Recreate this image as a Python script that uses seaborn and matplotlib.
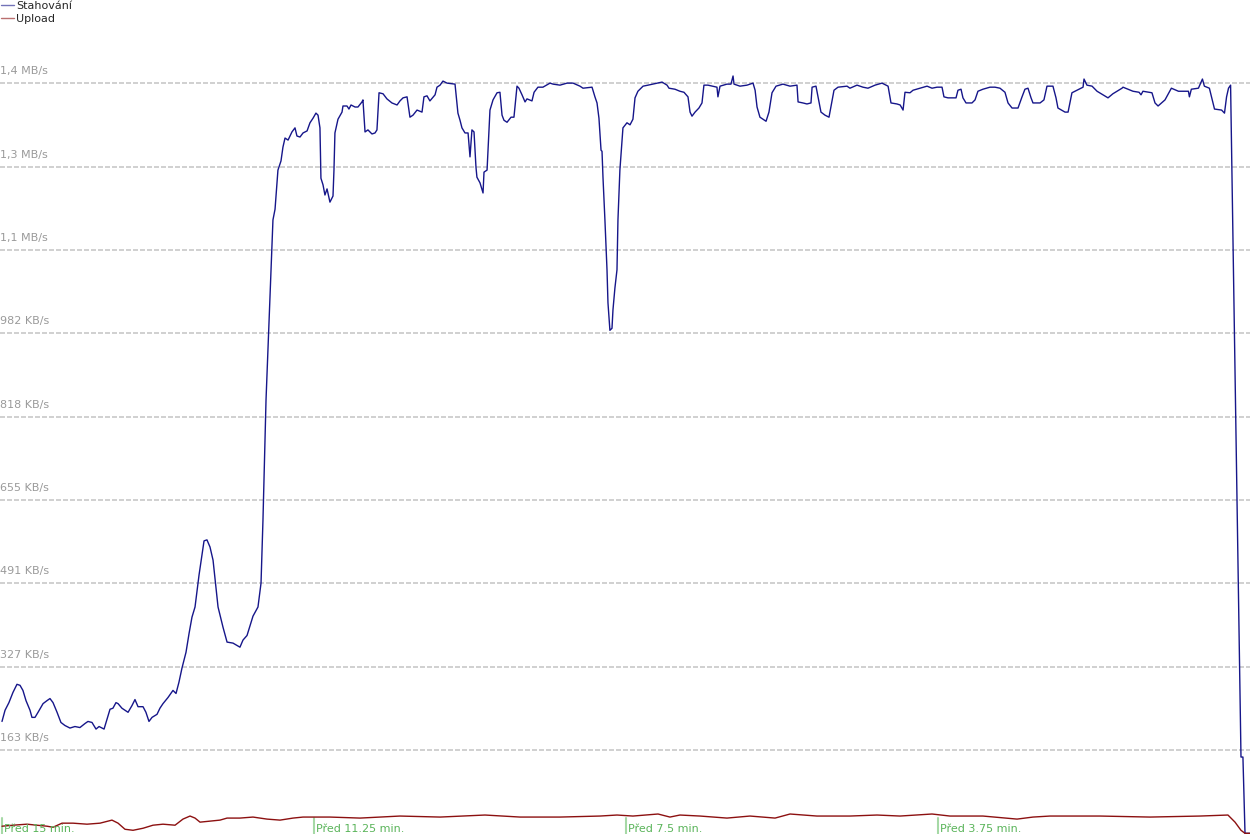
import pandas as pd
import seaborn as sns
import matplotlib.pyplot as plt

# -------------------- data -------------------- #
# time in seconds since the start of the 15 minute window, speed in KB/s

download_t = [
    0.0, 2.2, 5.0, 7.9, 10.8, 13.0, 15.1, 17.3, 20.2, 21.6, 23.8, 26.0, 29.6, 32.5,
    34.6, 36.8, 39.7, 42.5, 45.4, 49.0, 52.6, 56.2, 59.9, 62.0, 64.9, 67.8, 70.0,
    73.6, 77.9, 80.0, 82.2, 83.7, 86.5, 90.9, 93.7, 95.9, 98.1, 101.7, 103.8, 106.0,
    108.2, 111.8, 113.9, 116.1, 119.7, 123.3, 125.5, 127.6, 129.8, 132.7, 134.9,
    137.0, 139.2, 142.1, 145.7, 147.8, 150.0, 152.2, 155.8, 159.4, 162.3, 166.6,
    171.6, 173.8, 176.7, 181.0, 184.6, 186.8, 188.2, 190.4, 193.2, 195.4, 196.9,
    199.0, 201.2, 202.6, 204.1, 206.3, 209.1, 211.3, 212.7, 214.9, 217.1, 220.0,
    222.1, 224.3, 226.4, 227.9, 229.3, 230.0, 231.5, 232.9, 234.4, 236.5, 238.7,
    239.4, 240.1, 242.3, 245.2, 245.9, 248.8, 250.2, 251.7, 254.6, 256.7, 259.6,
    260.3, 261.8, 263.9, 266.8, 269.0, 270.4, 271.9, 274.8, 277.6, 281.2, 284.9,
    287.0, 289.2, 292.1, 294.2, 296.4, 299.3, 302.9, 304.3, 306.5, 308.6, 312.3,
    313.7, 315.9, 318.0, 320.9, 326.7, 328.8, 330.3, 331.7, 333.9, 336.1, 337.5,
    338.9, 340.4, 341.8, 342.5, 344.7, 346.9, 347.6, 349.8, 351.9, 354.1, 357.0,
    359.1, 360.6, 362.0, 364.2, 367.1, 369.2, 371.4, 372.8, 375.0, 377.2, 378.6,
    382.2, 383.7, 386.5, 390.1, 395.2, 397.4, 402.4, 407.5, 411.8, 416.8, 419.0,
    425.5, 427.6, 429.1, 430.5, 432.0, 432.7, 433.4, 434.8, 436.3, 437.0, 438.4,
    439.9, 440.6, 442.0, 443.5, 444.2, 445.6, 447.8, 450.7, 452.9, 455.0, 456.5,
    458.6, 462.3, 465.9, 472.4, 476.0, 479.6, 481.0, 485.3, 488.9, 491.8, 494.7,
    496.2, 497.6, 499.8, 502.6, 504.8, 506.2, 509.1, 515.6, 516.3, 517.8, 522.8,
    525.7, 527.2, 527.9, 532.2, 537.3, 541.6, 543.1, 544.5, 546.6, 551.0, 553.1,
    555.3, 558.2, 563.2, 568.3, 573.3, 574.1, 577.6, 580.5, 583.4, 584.2, 587.0,
    588.5, 590.6, 593.5, 596.4, 600.0, 602.9, 609.4, 611.5, 616.6, 620.9, 624.5,
    629.6, 634.6, 639.0, 641.1, 645.4, 647.7, 649.8, 651.2, 654.8, 657.0, 662.0,
    667.1, 670.7, 674.3, 677.9, 679.3, 682.2, 688.0, 689.4, 691.6, 693.0, 695.2,
    699.5, 701.7, 703.8, 707.4, 712.5, 716.1, 719.7, 723.3, 725.5, 728.4, 732.7,
    735.6, 737.7, 739.9, 742.1, 743.5, 748.6, 751.4, 753.6, 757.9, 760.1, 761.5,
    766.6, 768.8, 771.6, 775.2, 779.6, 780.3, 782.4, 786.1, 789.7, 794.0, 797.6,
    801.1, 807.7, 808.4, 812.0, 815.6, 820.0, 821.4, 822.8, 829.3, 831.5, 833.7,
    838.7, 843.3, 848.4, 855.6, 856.3, 857.7, 862.8, 865.7, 867.1, 870.7, 874.4,
    879.5, 881.6, 883.1, 884.5, 886.0, 893.5, 894.9, 896.4, 900.0,
]
download_kbs = [
    220, 242, 257, 277, 293, 291, 281, 261, 242, 228, 228, 238, 255, 261,
    265, 257, 238, 218, 212, 207, 210, 208, 216, 220, 218, 205, 210,
    205, 244, 246, 257, 255, 246, 238, 251, 263, 249, 249, 238, 220,
    228, 234, 246, 255, 267, 281, 275, 297, 325, 356, 393,
    425, 445, 508, 575, 577, 563, 537, 445, 405, 376, 374,
    366, 380, 389, 427, 445, 492, 616, 852, 1049, 1206, 1227,
    1304, 1322, 1349, 1367, 1363, 1379, 1387, 1371, 1369, 1377, 1381,
    1397, 1406, 1416, 1412, 1387, 1288, 1275, 1255, 1267, 1241, 1253,
    1304, 1377, 1404, 1418, 1430, 1430, 1424, 1432, 1428, 1428, 1438,
    1442, 1379, 1383, 1375, 1377, 1383, 1456, 1454, 1444, 1436, 1432,
    1440, 1446, 1448, 1408, 1412, 1422, 1418, 1448, 1450, 1440, 1452,
    1467, 1471, 1479, 1475, 1473, 1416, 1402, 1387, 1377, 1377, 1330,
    1383, 1379, 1310, 1290, 1279, 1259, 1300, 1304, 1422, 1442, 1456,
    1457, 1412, 1402, 1398, 1408, 1408, 1469, 1465, 1452, 1438, 1444,
    1440, 1457, 1467, 1467, 1475, 1473, 1471, 1475, 1475, 1469, 1465,
    1467, 1448, 1436, 1406, 1343, 1341, 1290, 1206, 1108, 1043, 989,
    993, 1029, 1072, 1108, 1206, 1304, 1387, 1397, 1393, 1404, 1446,
    1459, 1469, 1471, 1475, 1477, 1471, 1465, 1463, 1459, 1457, 1448,
    1418, 1410, 1418, 1426, 1436, 1471, 1471, 1467, 1448, 1469, 1473,
    1473, 1489, 1473, 1469, 1471, 1475, 1461, 1428, 1408, 1400, 1418,
    1456, 1469, 1473, 1469, 1471, 1438, 1436, 1434, 1436, 1467, 1469,
    1448, 1418, 1412, 1408, 1461, 1467, 1469, 1465, 1471, 1467, 1465,
    1471, 1475, 1469, 1436, 1434, 1432, 1422, 1457, 1456, 1461, 1465,
    1469, 1465, 1467, 1467, 1448, 1446, 1446, 1461, 1463, 1446, 1436,
    1436, 1442, 1459, 1463, 1467, 1467, 1465, 1457, 1436, 1426, 1426,
    1448, 1463, 1465, 1446, 1436, 1436, 1442, 1469, 1469, 1446, 1426,
    1418, 1418, 1456, 1461, 1467, 1483, 1471, 1469, 1459, 1452, 1446,
    1454, 1465, 1467, 1463, 1459, 1457, 1452, 1459, 1456, 1436, 1430,
    1442, 1465, 1459, 1459, 1448, 1463, 1465, 1483, 1469, 1465, 1424,
    1422, 1416, 1448, 1465, 1471, 150, 150, 0, 0,
]

upload_t = [
    0.0, 7.9, 18.0, 25.2, 32.5, 36.8, 43.3, 51.2, 61.3, 70.7, 79.3, 83.7, 88.7,
    94.5, 101.7, 108.9, 116.1, 124.8, 130.5, 135.6, 139.2, 142.8, 150.0, 157.2,
    162.3, 171.6, 181.0, 191.1, 200.5, 209.9, 217.1, 229.3, 236.5, 258.2, 287.0,
    315.9, 348.3, 373.6, 402.4, 431.2, 443.5, 455.0, 473.1, 481.7, 488.9, 503.4,
    522.8, 539.4, 557.5, 568.3, 587.7, 611.5, 631.0, 647.6, 670.7, 683.6, 707.4,
    732.0, 743.5, 755.8, 791.8, 827.9, 863.9, 884.1, 889.2, 893.5, 896.4, 900.0,
]
upload_kbs = [
    14, 16, 18, 16, 14, 12, 20, 20, 18, 20, 26, 20, 8,
    6, 10, 16, 18, 16, 28, 34, 30, 22, 24, 26,
    30, 30, 32, 28, 26, 30, 32, 32, 32, 30, 34,
    32, 36, 32, 32, 34, 36, 34, 38, 32, 36, 34,
    30, 34, 30, 38, 34, 34, 36, 34, 38, 34, 34,
    28, 32, 34, 34, 32, 34, 36, 22, 6, 0, 0,
]

grid_kbs = [163.84 * k for k in range(1, 10)]
grid_labels = ["163 KB/s", "327 KB/s", "491 KB/s", "655 KB/s", "818 KB/s",
               "982 KB/s", "1,1 MB/s", "1,3 MB/s", "1,4 MB/s"]

tick_t = [0, 225, 450, 675]
tick_labels = ["Před 15 min.", "Před 11.25 min.", "Před 7.5 min.", "Před 3.75 min."]

# -------------------- plot -------------------- #

sns.set_style("white")
plt.rcParams["font.family"] = ["DejaVu Sans"]

df_down = pd.DataFrame({"t": download_t, "kbs": download_kbs})
df_up = pd.DataFrame({"t": upload_t, "kbs": upload_kbs})

fig = plt.figure(figsize=(12.5, 8.34), dpi=100)
ax = fig.add_axes([0, 0, 1, 1])

# dashed gridlines with labels sitting above them
for val, lab in zip(grid_kbs, grid_labels):
    ax.axhline(val, color="#c8c8c8", lw=1.2, dashes=(3, 1.2), zorder=1)
    ax.annotate(lab, xy=(0, val), xycoords=("axes fraction", "data"),
                xytext=(0, 6.5), textcoords="offset points",
                fontsize=8, color="#9a9a9a", va="baseline", ha="left")

sns.lineplot(data=df_down, x="t", y="kbs", ax=ax, color="#16168a", lw=1.0,
             estimator=None, sort=False, label="Stahování", zorder=3)
sns.lineplot(data=df_up, x="t", y="kbs", ax=ax, color="#8c1010", lw=1.0,
             estimator=None, sort=False, label="Upload", zorder=3)

# green time markers at the bottom
for t, lab in zip(tick_t, tick_labels):
    ax.axvline(t, ymin=0, ymax=16 / 834, color="#a6d9a6", lw=1.5, zorder=2)
    ax.annotate(lab, xy=(t, 0), xycoords=("data", "axes fraction"),
                xytext=(1.6, 1.1), textcoords="offset points",
                fontsize=8, color="#5ab45a", va="baseline", ha="left")

ax.set_xlim(-1.44, 900)
ax.set_ylim(-1.3, 1638.4)
ax.set_xlabel("")
ax.set_ylabel("")
ax.set_xticks([])
ax.set_yticks([])
sns.despine(ax=ax, left=True, bottom=True)

leg = ax.legend(loc="upper left", bbox_to_anchor=(0, 1), borderaxespad=0,
                borderpad=0.12, frameon=False, fontsize=8, handlelength=1.1,
                handletextpad=0.2, labelspacing=0.22)
for line in leg.get_lines():
    line.set_alpha(0.6)

plt.savefig("out.png", dpi=100)
